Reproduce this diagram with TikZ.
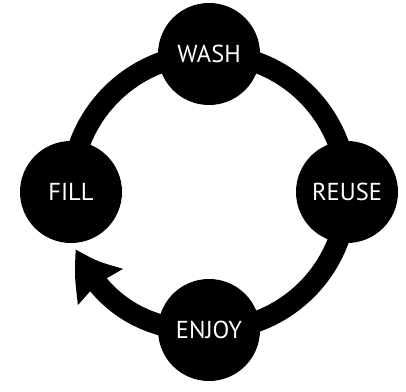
\documentclass[tikz,border=0pt]{standalone}
\usepackage{fontspec}
\setmainfont{PT Sans}
\usetikzlibrary{arrows.meta,bending,backgrounds}

\begin{document}
\begin{tikzpicture}[x=1pt, y=1pt,
  stage/.style={circle, fill=black, minimum size=102pt, inner sep=0pt,
    text=white, font=\fontsize{24.5}{24.5}\selectfont},
  ring/.style={line width=21pt, draw=black}]
  \useasboundingbox (0,0) rectangle (406,391);
  % vier Stationen auf dem Ring (Mitte 209/199, Radius 138)
  \node[stage] (wash)  at (209,337) {WASH};
  \node[stage] (reuse) at (347,199) {REUSE};
  \node[stage] (enjoy) at (209,61)  {ENJOY};
  \node[stage] (fill)  at (71,199)  {FILL};
  % Spitze des Pfeils kurz vor FILL
  \coordinate (tip) at (76,142);
  % Ring hinter den Kreisen
  \begin{scope}[on background layer]
    \draw[ring] (fill.center) to[bend left=45] (wash.center);
    \draw[ring] (wash.center) to[bend left=45] (reuse.center);
    \draw[ring] (reuse.center) to[bend left=45] (enjoy.center);
    \draw[ring, -{Stealth[length=46pt, width=54pt, inset=4pt, bend]}]
      (enjoy.center) to[bend left=34] (tip);
  \end{scope}
\end{tikzpicture}
\end{document}
